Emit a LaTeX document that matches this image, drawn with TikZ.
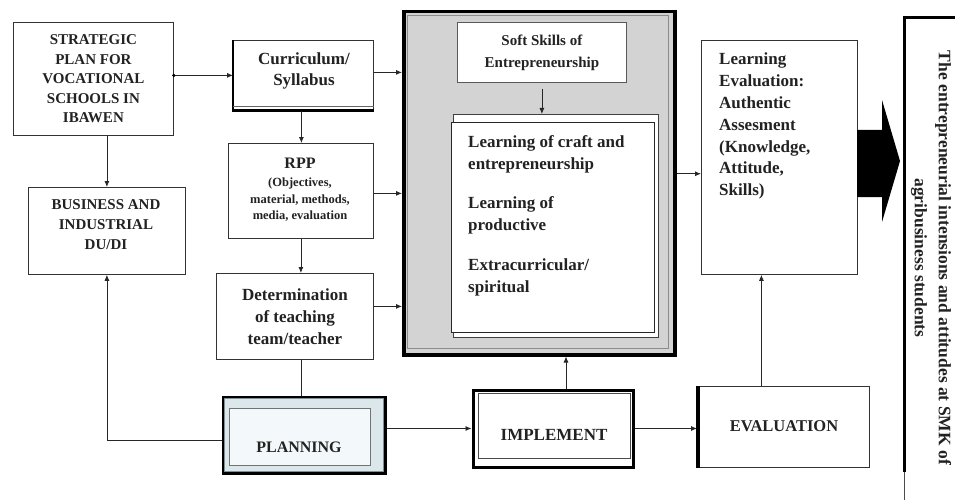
\documentclass[tikz,border=0pt]{standalone}
\usepackage{fontspec}
\setmainfont{Liberation Serif}
\usetikzlibrary{arrows.meta,calc}
\definecolor{ink}{HTML}{222222}
\definecolor{bigfill}{HTML}{D3D3D3}
\definecolor{planband}{HTML}{DCE7EC}
\definecolor{planline}{HTML}{7F8F96}
\definecolor{planin}{HTML}{F3F8FA}
\begin{document}
\begin{tikzpicture}[x=1pt,y=-1pt,
  box/.style={draw=black!80,line width=0.8pt,fill=white,inner sep=0pt,align=center,text=ink,anchor=north west},
  txt/.style={inner sep=0pt,text=ink,align=center},
  arr/.style={-{Latex[length=6pt,width=5pt]},line width=0.8pt,draw=black!85},
  ln/.style={line width=0.8pt,draw=black!85},
  f/.style 2 args={font=\bfseries\fontsize{#1}{#2}\selectfont},
]
\useasboundingbox (0,0) rectangle (955,500);

% Strategic plan
\node[box,minimum width=160pt,minimum height=113pt,f={15}{19.5}] (strat) at (13,22)
  {STRATEGIC\\PLAN FOR\\VOCATIONAL\\SCHOOLS IN\\IBAWEN};

% Business
\node[box,minimum width=157pt,minimum height=87pt] (bus) at (28,187) {};
\node[txt,f={15}{20}] (bust) at (106,225) {BUSINESS AND\\INDUSTRIAL\\DU/DI};

% Curriculum
\node[box,minimum width=140pt,minimum height=70pt] (curr) at (233,40) {};
\draw[line width=2.6pt,black] (curr.north west) -- (curr.south west) -- (curr.south east);
\draw[line width=0.8pt,black!60] ([yshift=4.5pt]curr.south west) -- ([yshift=4.5pt]curr.south east);
\node[txt,f={17}{21}] (currt) at (304,71) {Curriculum/\\Syllabus};

% RPP
\node[box,minimum width=145pt,minimum height=95pt] (rpp) at (228,143) {};
\node[txt,f={16}{20}] (rppt) at (300,163) {RPP};
\node[txt,f={12.5}{16.5}] (rppd) at (300,200) {(Objectives,\\material, methods,\\media, evaluation};

% Determination
\node[box,minimum width=157pt,minimum height=86pt,f={17}{22}] (det) at (216,273)
  {Determination\\of teaching\\team/teacher};

% Planning
\node[draw=black,line width=3pt,fill=planband,minimum width=162pt,minimum height=76pt,inner sep=0pt,anchor=north west] (plan) at (221.5,395.5) {};
\draw[planline,line width=1.4pt] ($(plan.north west)+(3,3)$) rectangle ($(plan.south east)+(-3,-3)$);
\draw[black!55,line width=0.8pt,fill=planin] (229,408) rectangle (370,465);
\node[txt,f={16}{20}] (plant) at (299,447) {PLANNING};

% Implement
\node[draw=black,line width=3pt,fill=white,minimum width=160pt,minimum height=77pt,inner sep=0pt,anchor=north west] (impl) at (471.5,388.5) {};
\draw[black!70,line width=0.9pt] (478,393) rectangle (630,458);
\node[txt,f={17}{20}] (implt) at (554,435) {IMPLEMENT};

% Evaluation
\node[box,minimum width=172pt,minimum height=81pt] (eval) at (697,386) {};
\draw[line width=3.5pt,black] ([xshift=1pt]eval.north west) -- ([xshift=1pt]eval.south west);
\node[txt,f={16.5}{20}] (evalt) at (784,426) {EVALUATION};

% Learning evaluation
\node[box,minimum width=156pt,minimum height=234pt] (lev) at (701,40) {};
\node[txt,align=left,anchor=north west,f={17}{21.8}] (levt) at (719,53)
  {Learning\\Evaluation:\\Authentic\\Assesment\\(Knowledge,\\Attitude,\\Skills)};

% Big box
\node[draw=black,line width=3.5pt,fill=bigfill,minimum width=271pt,minimum height=343pt,inner sep=0pt,anchor=north west] (big) at (402,10) {};
\draw[black!45,line width=0.8pt] (407,15) rectangle (668,348);
\node[box,draw=black!65,minimum width=169pt,minimum height=60pt,f={15}{22}] (soft) at (457,22)
  {Soft Skills of\\Entrepreneurship};
\node[box,draw=black!75,minimum width=205pt,minimum height=223pt] (learnb) at (453,114) {};
\node[box,draw=black!85,minimum width=203pt,minimum height=210pt] (learn) at (451,122) {};
\node[txt,align=left,anchor=north west,f={17}{22}] (learnt) at (468,135)
  {Learning of craft and\\entrepreneurship\\[17pt]Learning of\\productive\\[18pt]Extracurricular/\\spiritual};

% Right box
\coordinate (rtop) at (904,18);
\coordinate (rright) at (955,18);
\coordinate (rmid) at (904,472);
\coordinate (rbot) at (904,500);
\draw[line width=3pt,black] (rright) -- (rtop) -- (rmid);
\draw[line width=0.8pt,black!70] (rmid) -- (rbot);
\node[txt,rotate=-90,f={17.5}{24}] (outt) at (931,258)
  {The entrepreneurial intensions and attitudes at SMK of\\agribusiness students};

% Big black arrow
\fill[black] (857,130) -- (882,130) -- (882,100) -- (900,161) -- (882,222) -- (882,197) -- (857,197) -- cycle;

% Connectors
\draw[arr] (strat.east |- curr.west) -- (curr.west);
\fill[black] (strat.east |- curr.west) circle (1.8pt);
\draw[arr] (bus.north |- strat.south) -- (bus.north);
\draw[arr] ([xshift=-2pt]curr.south) -- ([xshift=-2pt]curr.south |- rpp.north);
\draw[arr] (rpp.south) -- (rpp.south |- det.north);
\draw[ln] (rpp.south |- det.south) -- (rpp.south |- plan.north);
\draw[arr] ([yshift=-5pt]plan.west) -- ([yshift=-5pt]bus.south |- plan.west) -- (bus.south);
\draw[arr] (plan.east |- impl.west) -- (impl.west);
\draw[arr] ([xshift=13pt]impl.north) -- ([xshift=13pt]impl.north |- big.south);
\draw[arr] (impl.east) -- (impl.east -| eval.west);
\draw[arr] ([xshift=-22pt]eval.north) -- ([xshift=-22pt]eval.north |- lev.south);
\draw[arr] ([yshift=3pt]curr.east) -- ([yshift=3pt]curr.east -| big.west);
\draw[arr] ([yshift=-2.5pt]rpp.east) -- ([yshift=-2.5pt]rpp.east -| big.west);
\draw[arr] ([yshift=10pt]det.east) -- ([yshift=10pt]det.east -| big.west);
\draw[arr] ([yshift=9.5pt]big.east) -- ([yshift=9.5pt]big.east -| lev.west);
\draw[arr] ([yshift=-6pt]soft.south) -- (soft.south |- learnb.north);
\end{tikzpicture}
\end{document}
